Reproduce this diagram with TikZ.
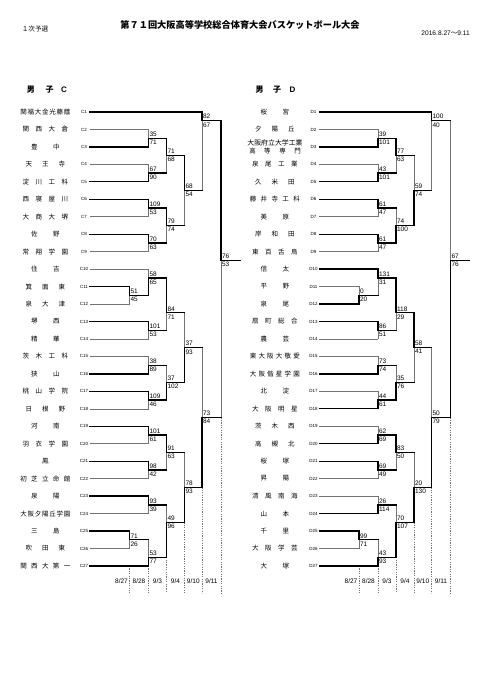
\documentclass[tikz,border=0pt]{standalone}
\usepackage{fontspec}
\setmainfont{Liberation Sans}
\newfontfamily\jp{Noto Sans CJK JP}
\pgfdeclarelayer{fg}
\pgfsetlayers{main,fg}
\newcount\nmcnt
\def\nmcountloop#1{\ifx#1\relax\else\advance\nmcnt by 1 \expandafter\nmcountloop\fi}
\def\spreadrest#1{\ifx#1\relax\else\hfill#1\expandafter\spreadrest\fi}
\def\spreadfirst#1{#1\spreadrest}
\def\spreadnamex#1{%
  \nmcnt=0 \nmcountloop#1\relax
  \ifnum\nmcnt=0 \else
    \ifnum\nmcnt=1 #1\else
      \ifcase\nmcnt\or\or\def\nmw{28.5pt}\or\def\nmw{39.5pt}\or\def\nmw{45.5pt}\else\def\nmw{50pt}\fi
      \hbox to \nmw{\spreadfirst#1\relax}%
    \fi
  \fi}
\newcommand\spreadname[1]{\edef\tmpnm{#1}\expandafter\spreadnamex\expandafter{\tmpnm}}
\newcommand\cx[1]{\ifcase#1 90\or129.5\or148.5\or166.5\or184.5\or202\or221\or240\fi}
\tikzset{
  win/.style={line width=1.3pt, black, line cap=rect},
  lose/.style={line width=0.6pt, black!55, line cap=rect},
  dotl/.style={line width=0.45pt, black!55, dash pattern=on 1.2pt off 1.2pt},
  nm/.style={inner sep=0pt, font=\jp\fontsize{6.5}{7}\selectfont},
  lbl/.style={inner sep=0pt, font=\fontsize{4.5}{5}\selectfont},
  sc/.style={inner sep=0pt, font=\fontsize{6.5}{7}\selectfont},
  dt/.style={inner sep=0pt, font=\fontsize{6.5}{7}\selectfont},
  hd/.style={inner sep=0pt, font=\jp\bfseries\fontsize{8}{9}\selectfont},
  hdl/.style={inner sep=0pt, font=\bfseries\fontsize{8}{9}\selectfont},
}
% team: index, name, end column, w/l, prefix
\newcommand\drawteam[5]{%
  \pgfmathsetmacro\yy{112+8.73*2*(#1-1)}\edef\xe{\cx{#3}}%
  \node[nm] (n#5#1) at (45.3,\yy) {\spreadname{#2}};
  \node[lbl] (l#5#1) at (84,\yy) {#5#1};
  \if w#4
    \begin{pgfonlayer}{fg}\draw[win] (90,\yy) -- (\xe,\yy);\end{pgfonlayer}
  \else
    \draw[lose] (90,\yy) -- (\xe,\yy);
  \fi
}
% match: column, top g, bottom g, out g, top score, bottom score, t/b winner
\newcommand\drawmatch[7]{%
  \edef\xa{\cx{#1}}\pgfmathtruncatemacro\cn{#1+1}\edef\xb{\cx{\cn}}%
  \pgfmathsetmacro\ya{112+8.73*#2}\pgfmathsetmacro\yb{112+8.73*#3}\pgfmathsetmacro\yo{112+8.73*#4}%
  \if t#7
    \draw[lose] (\xa,\yo) -- (\xa,\yb);
    \begin{pgfonlayer}{fg}\draw[win] (\xa,\ya) -- (\xa,\yo) -- (\xb,\yo);\end{pgfonlayer}
  \else
    \draw[lose] (\xa,\ya) -- (\xa,\yo);
    \begin{pgfonlayer}{fg}\draw[win] (\xa,\yb) -- (\xa,\yo) -- (\xb,\yo);\end{pgfonlayer}
  \fi
  \node[sc,anchor=south west] at (\xa+0.9,\yo-1.5) {#5};
  \node[sc,anchor=north west] at (\xa+0.9,\yo+1.6) {#6};
}
\newcommand\drawdots{%
  \foreach \c/\g in {1/52,2/52,3/51,4/47,5/43,6/35}{%
    \edef\xd{\cx{\c}}\pgfmathsetmacro\yd{112+8.73*\g}%
    \draw[dotl] (\xd,\yd) -- (\xd,593);
  }
  \node[dt] (d1) at (121.5,581) {8/27};
  \node[dt] (d2) at (139,581) {8/28};
  \node[dt] (d3) at (157.5,581) {9/3};
  \node[dt] (d4) at (175.5,581) {9/4};
  \node[dt] (d5) at (193.3,581) {9/10};
  \node[dt] (d6) at (211.5,581) {9/11};
}
\begin{document}
\begin{tikzpicture}[x=1pt,y=-1pt]
\fill[white] (0,0) rectangle (481,680);
\useasboundingbox (0,0) rectangle (481,680);
\node[anchor=west,inner sep=0pt,font=\jp\fontsize{6.6}{7}\selectfont] (stage) at (21.7,29) {１次予選};
\node[inner sep=0pt,font=\jp\bfseries\fontsize{9.2}{10}\selectfont] (title) at (240,25) {第７１回大阪高等学校総合体育大会バスケットボール大会};
\node[anchor=east,inner sep=0pt,font=\fontsize{6.6}{7}\selectfont] (period) at (470,33) {2016.8.27{\jp ～}9.11};
% ---------- block C ----------
\node[hd] (hc1) at (31,90) {男};
\node[hd] (hc2) at (49.5,90) {子};
\node[hdl] (hc3) at (64,90) {C};
\foreach \i/\nm/\xe/\st in {1/関福大金光藤蔭/5/w, 2/関西大倉/2/l, 3/豊中/2/w, 4/天王寺/2/l, 5/淀川工科/2/w, 6/西寝屋川/2/w, 7/大商大堺/2/l, 8/佐野/2/w, 9/常翔学園/2/l, 10/住吉/2/l, 11/箕面東/1/w, 12/泉大津/1/l, 13/堺西/2/w, 14/精華/2/l, 15/茨木工科/2/l, 16/狭山/2/w, 17/桃山学院/2/w, 18/日根野/2/l, 19/河南/2/w, 20/羽衣学園/2/l, 21/鳳/2/w, 22/初芝立命館/2/l, 23/泉陽/2/w, 24/大阪夕陽丘学園/2/l, 25/三島/1/w, 26/吹田東/1/l, 27/関西大第一/2/w}
  {\drawteam{\i}{\nm}{\xe}{\st}{C}}
\foreach \c/\a/\b/\o/\sa/\sb/\w in {2/2/4/3/35/71/b, 2/6/8/7/67/90/b, 3/3/7/5/71/68/t, 2/10/12/11/109/53/t, 2/14/16/15/70/63/t, 3/11/15/13/79/74/t, 4/5/13/9/68/54/t, 5/0/9/1/82/67/t, 1/20/22/21/51/45/t, 2/18/21/19/58/65/b, 2/24/26/25/101/53/t, 3/19/25/23/84/71/t, 2/28/30/29/38/89/b, 2/32/34/33/109/46/t, 3/29/33/31/37/102/b, 4/23/31/27/37/93/b, 2/36/38/37/101/61/t, 2/40/42/41/98/42/t, 3/37/41/39/91/63/t, 2/44/46/45/93/39/t, 1/48/50/49/71/26/t, 2/49/52/51/53/77/b, 3/45/51/47/49/96/b, 4/39/47/43/78/93/b, 5/27/43/35/73/84/b, 6/1/35/17/76/53/t}
  {\drawmatch{\c}{\a}{\b}{\o}{\sa}{\sb}{\w}}
\drawdots
% ---------- block D ----------
\begin{scope}[xshift=229.5pt]
\node[hd] (hd1) at (30,90) {男};
\node[hd] (hd2) at (47.5,90) {子};
\node[hdl] (hd3) at (63,90) {D};
\foreach \i/\nm/\xe/\st in {1/桜宮/5/w, 2/夕陽丘/2/l, 4/泉尾工業/2/l, 5/久米田/2/w, 6/藤井寺工科/2/w, 7/美原/2/l, 8/岸和田/2/w, 9/東百舌鳥/2/l, 10/信太/2/w, 11/平野/1/l, 12/泉尾/1/w, 13/扇町総合/2/w, 14/農芸/2/l, 15/東大阪大敬愛/2/l, 16/大阪偕星学園/2/w, 17/北淀/2/l, 18/大阪明星/2/w, 19/茨木西/2/l, 20/高槻北/2/w, 21/桜塚/2/w, 22/昇陽/2/l, 23/清風南海/2/l, 24/山本/2/w, 25/千里/1/w, 26/大阪学芸/1/l, 27/大塚/2/w}
  {\drawteam{\i}{\nm}{\xe}{\st}{D}}
\drawteam{3}{}{2}{w}{D}
\node[inner sep=0pt,font=\jp\fontsize{6.9}{7}\selectfont] (nD3a) at (45.5,142.7) {大阪府立大学工業};
\node[inner sep=0pt,font=\jp\fontsize{6.5}{7}\selectfont] (nD3b) at (45.5,150.6) {\hbox to 51.5pt{高\hfill 等\hfill 専\hfill 門}};
\foreach \c/\a/\b/\o/\sa/\sb/\w in {2/2/4/3/39/101/b, 2/6/8/7/43/101/b, 3/3/7/5/77/63/t, 2/10/12/11/61/47/t, 2/14/16/15/61/47/t, 3/11/15/13/74/100/b, 4/5/13/9/59/74/b, 5/0/9/1/100/40/t, 1/20/22/21/0/20/b, 2/18/21/19/131/31/t, 2/24/26/25/86/51/t, 3/19/25/23/118/29/t, 2/28/30/29/73/74/b, 2/32/34/33/44/61/b, 3/29/33/31/35/76/b, 4/23/31/27/58/41/t, 2/36/38/37/62/69/b, 2/40/42/41/69/49/t, 3/37/41/39/83/50/t, 2/44/46/45/26/114/b, 1/48/50/49/99/71/t, 2/49/52/51/43/93/b, 3/45/51/47/70/107/b, 4/39/47/43/20/130/b, 5/27/43/35/50/79/b, 6/1/35/17/67/76/b}
  {\drawmatch{\c}{\a}{\b}{\o}{\sa}{\sb}{\w}}
\drawdots
\end{scope}
\end{tikzpicture}
\end{document}
